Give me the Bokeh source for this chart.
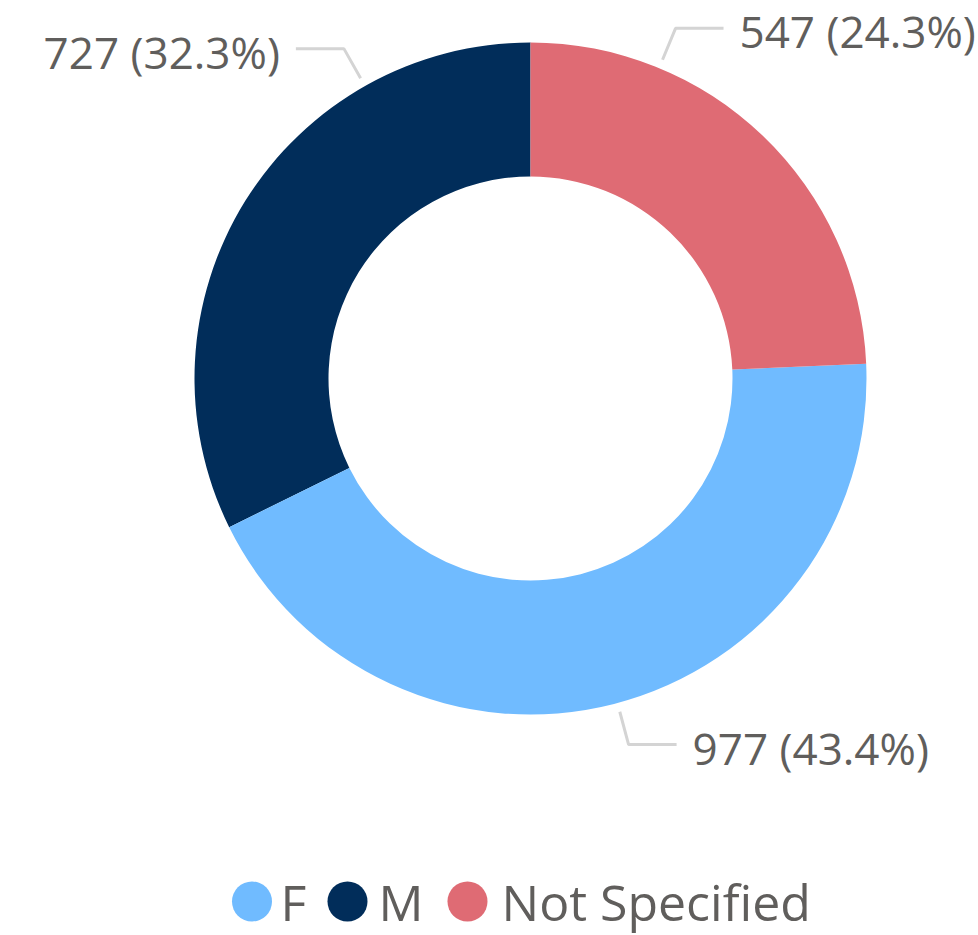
import math
from bokeh.plotting import figure
from bokeh.models import Range1d, ColumnDataSource
from bokeh.core.properties import value
from bokeh.embed import file_html
from bokeh.resources import INLINE

# ---- data ----
categories = ["F", "M", "Not Specified"]
counts = [977, 727, 547]
colors = ["#70BBFF", "#012D5A", "#DF6B74"]

# drawing order: counter-clockwise starting at 12 o'clock
draw_order = ["M", "F", "Not Specified"]

# ---- layout (pixels of the picture) ----
W, H = 978, 935
CX, CY_SCREEN = 530, 378
R_OUT, R_IN = 336, 202
LABEL_ANGLE_DEG = {"M": 119.5, "F": -75.0, "Not Specified": 67.5}
R1, R2, HLEN, TGAP, TEXT_DY = 345, 379, 48, 16, 3
FONT = "Open Sans"
TEXT_COLOR = "#605E5C"
LEADER_COLOR = "#D4D4D4"
LEGEND_Y_SCREEN = 901
LEGEND_DOT_X = [251.5, 347, 467]
LEGEND_TEXT_X = [280, 378, 501]
LEGEND_DOT_SIZE = 40


def sy(y_screen):
    return H - y_screen


p = figure(width=W, height=H,
           x_range=Range1d(0, W), y_range=Range1d(0, H),
           output_backend="svg", toolbar_location=None,
           x_axis_location=None, y_axis_location=None,
           min_border=0, outline_line_color=None)
p.grid.visible = False
p.background_fill_color = "white"
p.border_fill_color = "white"

total = sum(counts)
cx, cy = CX, sy(CY_SCREEN)
start = math.pi / 2
wedges = dict(start=[], end=[], color=[])
for name in draw_order:
    i = categories.index(name)
    sweep = counts[i] / total * 2 * math.pi
    wedges["start"].append(start)
    wedges["end"].append(start + sweep)
    wedges["color"].append(colors[i])
    start += sweep
src = ColumnDataSource(wedges)
p.annular_wedge(x=cx, y=cy, inner_radius=R_IN, outer_radius=R_OUT,
                start_angle="start", end_angle="end", fill_color="color",
                line_color=None, source=src)

# ---- data labels with leader lines ----
for i, name in enumerate(categories):
    a = math.radians(LABEL_ANGLE_DEG[name])
    x1, y1 = cx + R1 * math.cos(a), cy + R1 * math.sin(a)
    x2, y2 = cx + R2 * math.cos(a), cy + R2 * math.sin(a)
    side = 1 if math.cos(a) >= 0 else -1
    x3 = x2 + side * HLEN
    p.line([x1, x2, x3], [y1, y2, y2], line_color=LEADER_COLOR, line_width=3)
    pct = counts[i] / total * 100
    p.text(x=[x3 + side * TGAP], y=[y2 - TEXT_DY],
           text=[f"{counts[i]} ({pct:.1f}%)"],
           text_font=value(FONT), text_font_size="44px",
           text_color=TEXT_COLOR, text_baseline="middle",
           text_align="left" if side > 0 else "right")

# ---- legend ----
ly = sy(LEGEND_Y_SCREEN)
p.scatter(x=LEGEND_DOT_X, y=[ly] * len(categories), size=LEGEND_DOT_SIZE,
          marker="circle", fill_color=colors, line_color=None)
p.text(x=LEGEND_TEXT_X, y=[ly] * len(categories), text=categories,
       text_font=value(FONT), text_font_size="50px", text_color=TEXT_COLOR,
       text_baseline="middle", text_align="left")

open("out.html", "w").write(file_html(p, INLINE))
